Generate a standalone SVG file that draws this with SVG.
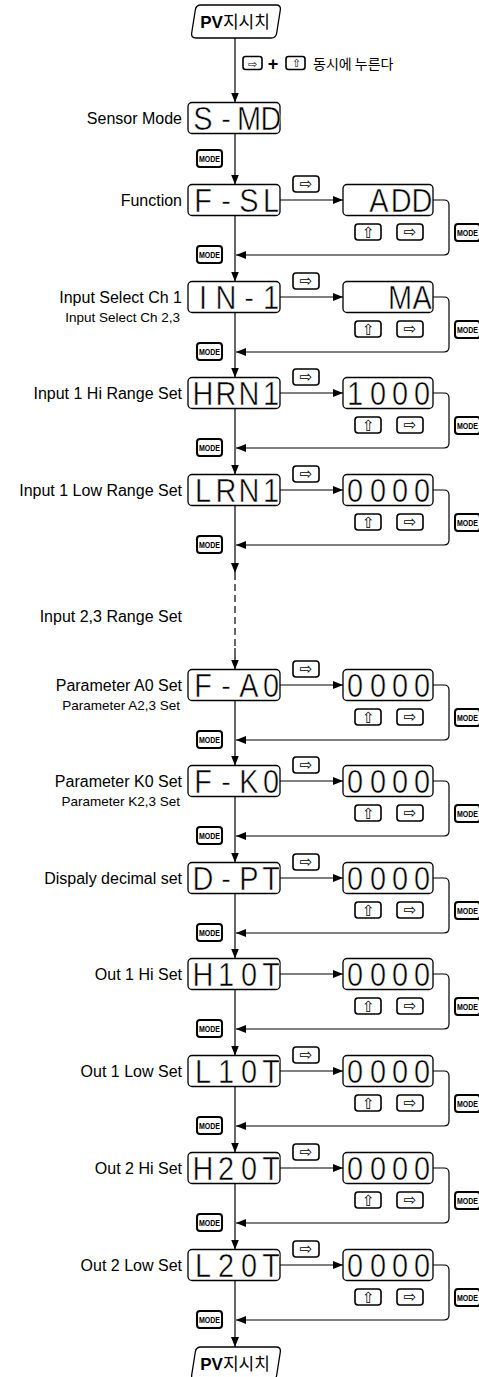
<svg xmlns="http://www.w3.org/2000/svg" width="479" height="1377" viewBox="0 0 479 1377">
<style>
.bx{fill:#fff;stroke:#000;stroke-width:1.3}
.ln{fill:none;stroke:#000;stroke-width:1.2}
.dsp{font-family:"Liberation Sans",Arial,sans-serif;font-size:34px;text-anchor:middle;fill:#000;stroke:#fff;stroke-width:0.55px}
.lbl{font-family:"Liberation Sans",Arial,sans-serif;font-size:16px;text-anchor:end;fill:#000}
.sub{font-family:"Liberation Sans",Arial,sans-serif;font-size:13.5px;text-anchor:end;fill:#000}
.key{fill:#fff;stroke:#000;stroke-width:1.6}
.mkey{fill:#fff;stroke:#000;stroke-width:2}
.kt{font-family:"DejaVu Sans",sans-serif;font-size:15px;text-anchor:middle;fill:#000}
.mt{font-family:"Liberation Sans",Arial,sans-serif;font-size:8.5px;font-weight:bold;fill:#000}
.pv{font-family:"Liberation Sans","Noto Sans CJK KR",sans-serif;font-size:17px;text-anchor:middle;fill:#000}
.kr{font-family:"Noto Sans CJK KR",sans-serif;font-size:14px;fill:#000}
</style>
<defs>
<marker id="ah" markerWidth="10" markerHeight="8" refX="10" refY="4" orient="auto" markerUnits="userSpaceOnUse"><path d="M0,0 L10,4 L0,8 Z" fill="#000"/></marker>
<g id="kR"><rect x="0" y="0" width="26" height="16" rx="3" class="key"/><text x="13" y="13.3" class="kt">⇨</text></g>
<g id="kU"><rect x="0" y="0" width="26" height="16" rx="3" class="key"/><text x="13" y="13.3" class="kt" transform="rotate(-90 13 8)">⇨</text></g>
<g id="kM"><rect x="0" y="0" width="25" height="17" rx="3" class="mkey"/><text x="2" y="11.8" class="mt" textLength="21" lengthAdjust="spacingAndGlyphs">MODE</text></g>
<path id="pvshape" d="M201 0 H276 Q281 0 280.3 5 L276.7 28 Q276 33 271 33 H196 Q191 33 191.7 28 L195.3 5 Q196 0 201 0 Z"/>
</defs>

<g id="connectors">
<path class="ln" d="M235 38 V102.5" marker-end="url(#ah)"/>
<path class="ln" d="M235 133.5 V184.5" marker-end="url(#ah)"/>
<path class="ln" d="M235 215.5 V281.5" marker-end="url(#ah)"/>
<path class="ln" d="M235 312.5 V377.5" marker-end="url(#ah)"/>
<path class="ln" d="M235 408.5 V474.5" marker-end="url(#ah)"/>
<path class="ln" d="M235 505.5 V573" marker-end="url(#ah)"/>
<path class="ln" d="M235 573 V648" stroke-dasharray="7 4"/>
<path class="ln" d="M235 648 V669.5" marker-end="url(#ah)"/>
<path class="ln" d="M235 700.5 V765.5" marker-end="url(#ah)"/>
<path class="ln" d="M235 796.5 V862.5" marker-end="url(#ah)"/>
<path class="ln" d="M235 893.5 V958.5" marker-end="url(#ah)"/>
<path class="ln" d="M235 989.5 V1055.5" marker-end="url(#ah)"/>
<path class="ln" d="M235 1086.5 V1152.5" marker-end="url(#ah)"/>
<path class="ln" d="M235 1183.5 V1249.5" marker-end="url(#ah)"/>
<path class="ln" d="M235 1280.5 V1347" marker-end="url(#ah)"/>
<path class="ln" d="M280 200 H343" marker-end="url(#ah)"/>
<path class="ln" d="M280 297 H343" marker-end="url(#ah)"/>
<path class="ln" d="M280 393 H343" marker-end="url(#ah)"/>
<path class="ln" d="M280 490 H343" marker-end="url(#ah)"/>
<path class="ln" d="M280 685 H343" marker-end="url(#ah)"/>
<path class="ln" d="M280 781 H343" marker-end="url(#ah)"/>
<path class="ln" d="M280 878 H343" marker-end="url(#ah)"/>
<path class="ln" d="M280 974 H343" marker-end="url(#ah)"/>
<path class="ln" d="M280 1071 H343" marker-end="url(#ah)"/>
<path class="ln" d="M280 1168 H343" marker-end="url(#ah)"/>
<path class="ln" d="M280 1265 H343" marker-end="url(#ah)"/>
<path class="ln" d="M433 200 H444 Q449 200 449 205 V250 Q449 255 444 255 H236" marker-end="url(#ah)"/>
<path class="ln" d="M433 297 H444 Q449 297 449 302 V347 Q449 352 444 352 H236" marker-end="url(#ah)"/>
<path class="ln" d="M433 393 H444 Q449 393 449 398 V443 Q449 448 444 448 H236" marker-end="url(#ah)"/>
<path class="ln" d="M433 490 H444 Q449 490 449 495 V540 Q449 545 444 545 H236" marker-end="url(#ah)"/>
<path class="ln" d="M433 685 H444 Q449 685 449 690 V735 Q449 740 444 740 H236" marker-end="url(#ah)"/>
<path class="ln" d="M433 781 H444 Q449 781 449 786 V831 Q449 836 444 836 H236" marker-end="url(#ah)"/>
<path class="ln" d="M433 878 H444 Q449 878 449 883 V928 Q449 933 444 933 H236" marker-end="url(#ah)"/>
<path class="ln" d="M433 974 H444 Q449 974 449 979 V1024 Q449 1029 444 1029 H236" marker-end="url(#ah)"/>
<path class="ln" d="M433 1071 H444 Q449 1071 449 1076 V1121 Q449 1126 444 1126 H236" marker-end="url(#ah)"/>
<path class="ln" d="M433 1168 H444 Q449 1168 449 1173 V1218 Q449 1223 444 1223 H236" marker-end="url(#ah)"/>
<path class="ln" d="M433 1265 H444 Q449 1265 449 1270 V1315 Q449 1320 444 1320 H236" marker-end="url(#ah)"/>
<use href="#kM" x="197" y="150"/>
<use href="#kR" x="293" y="176"/><use href="#kM" x="197" y="246"/>
<use href="#kR" x="293" y="273"/><use href="#kM" x="197" y="343"/>
<use href="#kR" x="293" y="369"/><use href="#kM" x="197" y="439"/>
<use href="#kR" x="293" y="466"/><use href="#kM" x="197" y="536"/>
<use href="#kR" x="293" y="661"/><use href="#kM" x="197" y="731"/>
<use href="#kR" x="293" y="757"/><use href="#kM" x="197" y="827"/>
<use href="#kR" x="293" y="854"/><use href="#kM" x="197" y="924"/>
<use href="#kM" x="197" y="1020"/>
<use href="#kR" x="293" y="1047"/><use href="#kM" x="197" y="1117"/>
<use href="#kR" x="293" y="1144"/><use href="#kM" x="197" y="1214"/>
<use href="#kR" x="293" y="1241"/><use href="#kM" x="197" y="1311"/>
</g>

<g id="n-pv-top">
<use href="#pvshape" x="0" y="5" class="bx"/>
<text class="pv" x="235" y="28"><tspan font-weight="bold">PV</tspan>지시치</text>
</g>

<g id="hint">
<rect x="243" y="56.5" width="19" height="13" rx="2.5" class="key"/><text x="252.5" y="67.5" class="kt" style="font-size:11px">⇨</text>
<text x="273" y="69.5" style="font-family:'Liberation Sans',sans-serif;font-size:18px;font-weight:bold;text-anchor:middle">+</text>
<rect x="286" y="56.5" width="19" height="13" rx="2.5" class="key"/><text x="295.5" y="67.5" class="kt" style="font-size:11px" transform="rotate(-90 295.5 63)">⇨</text>
<text x="313" y="68.5" class="kr">동시에 누른다</text>
</g>

<g id="n-smd">
<rect class="bx" x="188" y="102.5" width="92" height="31" rx="4"/>
<text class="dsp" transform="scale(0.85,1)" x="238.8 265.9 292.9 318.8" y="130">S-MD</text>
<text class="lbl" x="182" y="123.5">Sensor Mode</text>
</g>

<g id="n-fsl">
<rect class="bx" x="188" y="184.5" width="92" height="31" rx="4"/>
<text class="dsp" transform="scale(0.85,1)" x="238.8 265.9 292.9 318.8" y="212">F-SL</text>
<text class="lbl" x="182" y="205.5">Function</text>
</g>
<g id="v-fsl">
<rect class="bx" x="343" y="184.5" width="90" height="31" rx="4"/>
<text class="dsp" transform="scale(0.85,1)" x="445.9 472.1 496.5" y="212">ADD</text>
<use href="#kU" x="355" y="224"/><use href="#kR" x="397" y="224"/><use href="#kM" x="455" y="224"/>
</g>

<g id="n-in1">
<rect class="bx" x="188" y="281.5" width="92" height="31" rx="4"/>
<text class="dsp" transform="scale(0.85,1)" x="238.8 265.9 292.9 318.8" y="309">IN-1</text>
<text class="lbl" x="182" y="302.5">Input Select Ch 1</text>
<text class="sub" x="180" y="322">Input Select Ch 2,3</text>
</g>
<g id="v-in1">
<rect class="bx" x="343" y="281.5" width="90" height="31" rx="4"/>
<text class="dsp" transform="scale(0.85,1)" x="470.6 496.5" y="309">MA</text>
<use href="#kU" x="355" y="321"/><use href="#kR" x="397" y="321"/><use href="#kM" x="455" y="321"/>
</g>

<g id="n-hrn1">
<rect class="bx" x="188" y="377.5" width="92" height="31" rx="4"/>
<text class="dsp" transform="scale(0.85,1)" x="238.8 265.9 292.9 318.8" y="405">HRN1</text>
<text class="lbl" x="182" y="398.5">Input 1 Hi Range Set</text>
</g>
<g id="v-hrn1">
<rect class="bx" x="343" y="377.5" width="90" height="31" rx="4"/>
<text class="dsp" transform="scale(0.85,1)" x="417.6 444.7 470.6 496.5" y="405">1000</text>
<use href="#kU" x="355" y="417"/><use href="#kR" x="397" y="417"/><use href="#kM" x="455" y="417"/>
</g>

<g id="n-lrn1">
<rect class="bx" x="188" y="474.5" width="92" height="31" rx="4"/>
<text class="dsp" transform="scale(0.85,1)" x="238.8 265.9 292.9 318.8" y="502">LRN1</text>
<text class="lbl" x="182" y="495.5">Input 1 Low Range Set</text>
</g>
<g id="v-lrn1">
<rect class="bx" x="343" y="474.5" width="90" height="31" rx="4"/>
<text class="dsp" transform="scale(0.85,1)" x="417.6 444.7 470.6 496.5" y="502">0000</text>
<use href="#kU" x="355" y="514"/><use href="#kR" x="397" y="514"/><use href="#kM" x="455" y="514"/>
</g>

<g id="l-in23">
<text class="lbl" x="182" y="622">Input 2,3 Range Set</text>
</g>

<g id="n-fa0">
<rect class="bx" x="188" y="669.5" width="92" height="31" rx="4"/>
<text class="dsp" transform="scale(0.85,1)" x="238.8 265.9 292.9 318.8" y="697">F-A0</text>
<text class="lbl" x="182" y="690.5">Parameter A0 Set</text>
<text class="sub" x="180" y="710">Parameter A2,3 Set</text>
</g>
<g id="v-fa0">
<rect class="bx" x="343" y="669.5" width="90" height="31" rx="4"/>
<text class="dsp" transform="scale(0.85,1)" x="417.6 444.7 470.6 496.5" y="697">0000</text>
<use href="#kU" x="355" y="709"/><use href="#kR" x="397" y="709"/><use href="#kM" x="455" y="709"/>
</g>

<g id="n-fk0">
<rect class="bx" x="188" y="765.5" width="92" height="31" rx="4"/>
<text class="dsp" transform="scale(0.85,1)" x="238.8 265.9 292.9 318.8" y="793">F-K0</text>
<text class="lbl" x="182" y="786.5">Parameter K0 Set</text>
<text class="sub" x="180" y="806">Parameter K2,3 Set</text>
</g>
<g id="v-fk0">
<rect class="bx" x="343" y="765.5" width="90" height="31" rx="4"/>
<text class="dsp" transform="scale(0.85,1)" x="417.6 444.7 470.6 496.5" y="793">0000</text>
<use href="#kU" x="355" y="805"/><use href="#kR" x="397" y="805"/><use href="#kM" x="455" y="805"/>
</g>

<g id="n-dpt">
<rect class="bx" x="188" y="862.5" width="92" height="31" rx="4"/>
<text class="dsp" transform="scale(0.85,1)" x="238.8 265.9 292.9 318.8" y="890">D-PT</text>
<text class="lbl" x="182" y="883.5">Dispaly decimal set</text>
</g>
<g id="v-dpt">
<rect class="bx" x="343" y="862.5" width="90" height="31" rx="4"/>
<text class="dsp" transform="scale(0.85,1)" x="417.6 444.7 470.6 496.5" y="890">0000</text>
<use href="#kU" x="355" y="902"/><use href="#kR" x="397" y="902"/><use href="#kM" x="455" y="902"/>
</g>

<g id="n-h1ot">
<rect class="bx" x="188" y="958.5" width="92" height="31" rx="4"/>
<text class="dsp" transform="scale(0.85,1)" x="238.8 265.9 292.9 318.8" y="986">H10T</text>
<text class="lbl" x="182" y="979.5">Out 1 Hi Set</text>
</g>
<g id="v-h1ot">
<rect class="bx" x="343" y="958.5" width="90" height="31" rx="4"/>
<text class="dsp" transform="scale(0.85,1)" x="417.6 444.7 470.6 496.5" y="986">0000</text>
<use href="#kU" x="355" y="998"/><use href="#kR" x="397" y="998"/><use href="#kM" x="455" y="998"/>
</g>

<g id="n-l1ot">
<rect class="bx" x="188" y="1055.5" width="92" height="31" rx="4"/>
<text class="dsp" transform="scale(0.85,1)" x="238.8 265.9 292.9 318.8" y="1083">L10T</text>
<text class="lbl" x="182" y="1076.5">Out 1 Low Set</text>
</g>
<g id="v-l1ot">
<rect class="bx" x="343" y="1055.5" width="90" height="31" rx="4"/>
<text class="dsp" transform="scale(0.85,1)" x="417.6 444.7 470.6 496.5" y="1083">0000</text>
<use href="#kU" x="355" y="1095"/><use href="#kR" x="397" y="1095"/><use href="#kM" x="455" y="1095"/>
</g>

<g id="n-h2ot">
<rect class="bx" x="188" y="1152.5" width="92" height="31" rx="4"/>
<text class="dsp" transform="scale(0.85,1)" x="238.8 265.9 292.9 318.8" y="1180">H20T</text>
<text class="lbl" x="182" y="1173.5">Out 2 Hi Set</text>
</g>
<g id="v-h2ot">
<rect class="bx" x="343" y="1152.5" width="90" height="31" rx="4"/>
<text class="dsp" transform="scale(0.85,1)" x="417.6 444.7 470.6 496.5" y="1180">0000</text>
<use href="#kU" x="355" y="1192"/><use href="#kR" x="397" y="1192"/><use href="#kM" x="455" y="1192"/>
</g>

<g id="n-l2ot">
<rect class="bx" x="188" y="1249.5" width="92" height="31" rx="4"/>
<text class="dsp" transform="scale(0.85,1)" x="238.8 265.9 292.9 318.8" y="1277">L20T</text>
<text class="lbl" x="182" y="1270.5">Out 2 Low Set</text>
</g>
<g id="v-l2ot">
<rect class="bx" x="343" y="1249.5" width="90" height="31" rx="4"/>
<text class="dsp" transform="scale(0.85,1)" x="417.6 444.7 470.6 496.5" y="1277">0000</text>
<use href="#kU" x="355" y="1289"/><use href="#kR" x="397" y="1289"/><use href="#kM" x="455" y="1289"/>
</g>

<g id="n-pv-bottom">
<use href="#pvshape" x="0" y="1347" class="bx"/>
<text class="pv" x="235" y="1370"><tspan font-weight="bold">PV</tspan>지시치</text>
</g>
</svg>
